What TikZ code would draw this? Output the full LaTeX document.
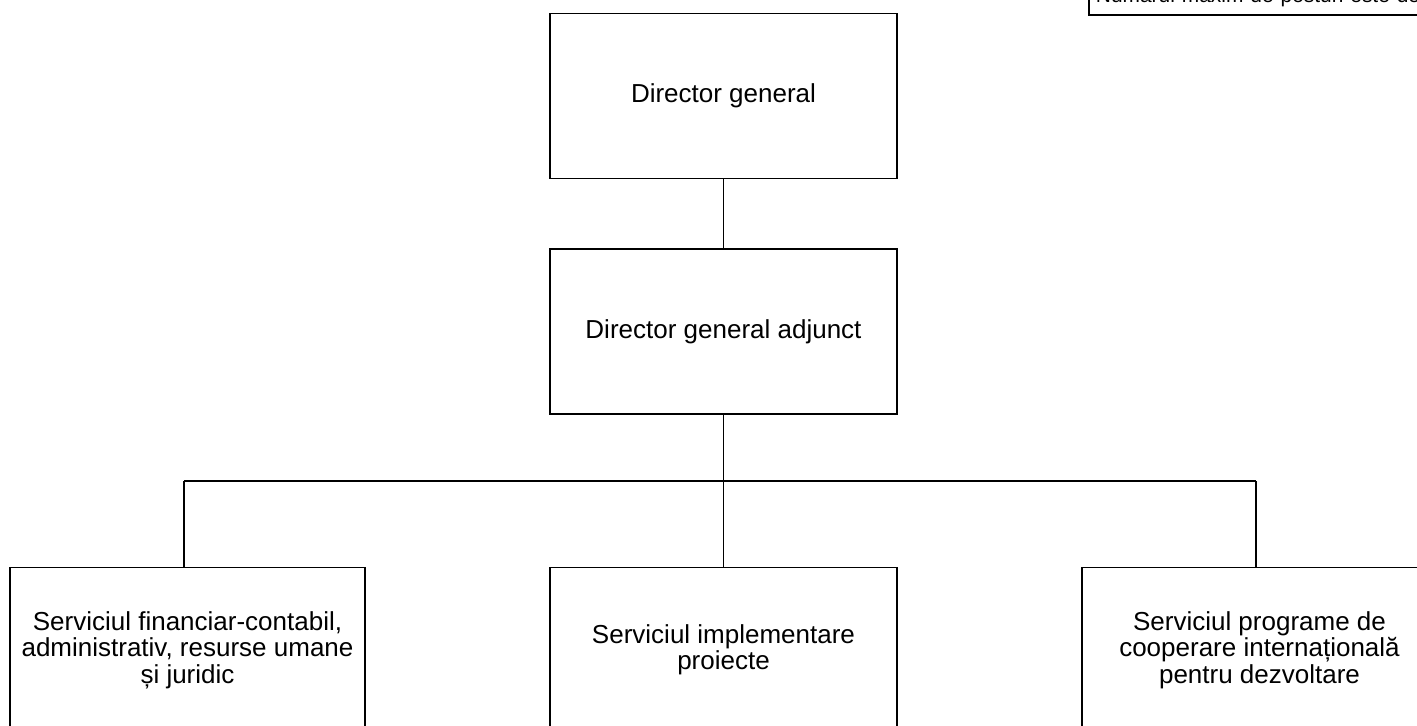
\documentclass[tikz,border=0pt]{standalone}
\usepackage{fontspec}
\setmainfont{Liberation Sans}
\usepackage{tikz}
\usetikzlibrary{positioning, calc}

\begin{document}
\begin{tikzpicture}[
    x=0.02cm, y=-0.02cm,
    orgbox/.style={draw=black, line width=1.1pt, fill=white, rectangle, align=center, font=\fontsize{14.8}{15}\selectfont, minimum width=6.94cm, minimum height=3.3cm, inner sep=2pt},
    servbox/.style={orgbox, minimum width=7.1cm},
    notebox/.style={draw=black, line width=1.1pt, rectangle, align=left, font=\fontsize{11.9}{14}\selectfont, text width=14cm, inner xsep=0.14cm, inner ysep=0pt, text depth=0.26cm},
    link/.style={draw=black, line width=0.8pt}
]
\clip (0,0) rectangle (1417,726);

% Note (top right)
\node (nota) [notebox, anchor=south west] at (1088, 16) {Numărul maxim de posturi este de};

% Top levels
\node (gen) [orgbox] at (723.5, 96) {Director general};
\node (adj) [orgbox] at (723.5, 331.5) {Director general adjunct};

% Services
\node (fin) [servbox] at (187.5, 650) {Serviciul financiar-contabil,\\ administrativ, resurse umane\\ și juridic};
\node (imp) [orgbox] at (723.5, 650) {Serviciul implementare\\ proiecte};
\node (coop) [servbox] at (1259.5, 650) {Serviciul programe de\\ cooperare internațională\\ pentru dezvoltare};

% Links
\coordinate (bus) at (723.5, 481);
\coordinate (busL) at (184, 481);
\coordinate (busR) at (1256, 481);
\draw[link] (gen.south) -- (adj.north);
\draw[link] (adj.south) -- (bus);
\draw[link] (busL) -- (busR);
\draw[link] (busL) -- (busL |- fin.north);
\draw[link] (bus) -- (imp.north);
\draw[link] (busR) -- (busR |- coop.north);

\end{tikzpicture}
\end{document}
